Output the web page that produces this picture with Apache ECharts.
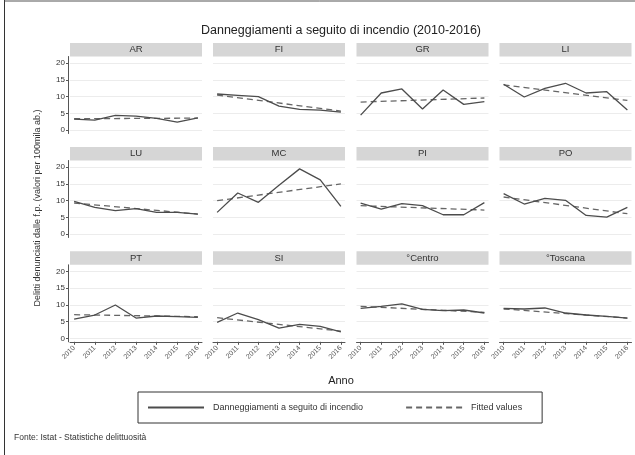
<!DOCTYPE html>
<html>
<head>
<meta charset="utf-8">
<script src="https://cdn.jsdelivr.net/npm/echarts@6/dist/echarts.min.js"></script>
<style>
html,body{margin:0;padding:0;background:#fff;}
#c{width:635px;height:455px;}
</style>
</head>
<body>
<div id="c"></div>
<script>
// ---- data ----
const years = [2010, 2011, 2012, 2013, 2014, 2015, 2016];
const yTicks = [0, 5, 10, 15, 20];
const panelNames = ['AR', 'FI', 'GR', 'LI', 'LU', 'MC', 'PI', 'PO', 'PT', 'SI', '°Centro', '°Toscana'];

const AR = [3.3, 3.0, 4.4, 4.2, 3.5, 2.4, 3.7];
const FI = [10.8, 10.4, 10.0, 7.2, 6.2, 6.0, 5.4];
const GR = [4.5, 11.1, 12.3, 6.3, 12.0, 7.7, 8.5];
const LI = [13.7, 9.9, 12.5, 14.0, 11.1, 11.5, 6.0];
const LU = [9.8, 8.0, 7.0, 7.6, 6.5, 6.5, 6.0];
const MC = [6.5, 12.3, 9.5, 14.6, 19.5, 16.2, 8.3];
const PI = [9.3, 7.5, 9.1, 8.5, 5.8, 5.8, 9.4];
const PO = [12.1, 9.0, 10.7, 10.1, 5.6, 5.1, 8.0];
const PT = [5.8, 7.0, 10.0, 6.1, 6.7, 6.5, 6.3];
const SI = [4.8, 7.6, 5.6, 3.1, 4.2, 3.6, 2.0];
const CENTRO = [9.0, 9.6, 10.3, 8.7, 8.3, 8.5, 7.6];
const TOSCANA = [9.0, 8.8, 9.1, 7.6, 7.0, 6.6, 6.1];

// fitted values: line endpoints at 2010 and 2016
const AR_fit = [3.4, 3.6];
const FI_fit = [10.5, 5.7];
const GR_fit = [8.4, 9.6];
const LI_fit = [13.5, 8.9];
const LU_fit = [9.3, 6.0];
const MC_fit = [10.0, 15.0];
const PI_fit = [8.5, 7.2];
const PO_fit = [11.1, 6.1];
const PT_fit = [7.1, 6.5];
const SI_fit = [6.2, 2.2];
const CENTRO_fit = [9.6, 7.8];
const TOSCANA_fit = [8.8, 6.1];

const observed = [AR, FI, GR, LI, LU, MC, PI, PO, PT, SI, CENTRO, TOSCANA];
const fitted = [AR_fit, FI_fit, GR_fit, LI_fit, LU_fit, MC_fit, PI_fit, PO_fit, PT_fit, SI_fit, CENTRO_fit, TOSCANA_fit];

const seriesNames = ['Danneggiamenti a seguito di incendio', 'Fitted values'];

// ---- layout ----
const FONT = '"Liberation Sans", Arial, Helvetica, sans-serif';
const colLeft = [70, 213, 356.5, 499.5];
const colW = 132;
const rowTop = [56.5, 160.5, 264.8];
const rowH = 77;
const stripH = 13.5;

const grids = [], xAxes = [], yAxes = [], series = [], graphics = [];

panelNames.forEach((name, i) => {
  const r = Math.floor(i / 4), c = i % 4;
  grids.push({ left: colLeft[c], top: rowTop[r], width: colW, height: rowH, containLabel: false });
  const bottomRow = r === 2;
  xAxes.push({
    type: 'value', gridIndex: i, min: 2009.8, max: 2016.2,
    axisLine: { show: bottomRow, onZero: false, lineStyle: { color: '#555', width: 1 } },
    axisTick: { show: bottomRow, length: 3, customValues: years, lineStyle: { color: '#555' } },
    axisLabel: {
      show: bottomRow, customValues: years, rotate: 45, fontSize: 7, color: '#555',
      fontFamily: FONT, margin: 5, formatter: v => String(v)
    },
    splitLine: { show: false }
  });
  const firstCol = c === 0;
  yAxes.push({
    type: 'value', gridIndex: i, min: -1, max: 22, offset: firstCol ? 2 : 0,
    axisLine: { show: firstCol, lineStyle: { color: '#555', width: 1 } },
    axisTick: { show: firstCol, length: 2, customValues: yTicks, lineStyle: { color: '#555' } },
    axisLabel: { show: firstCol, customValues: yTicks, fontSize: 8, color: '#333', fontFamily: FONT, margin: 3 },
    splitLine: { show: true, lineStyle: { color: '#ececec', width: 1 } }
  });
  series.push({
    name: seriesNames[0], type: 'line', xAxisIndex: i, yAxisIndex: i,
    data: years.map((y, k) => [y, observed[i][k]]),
    symbol: 'none', lineStyle: { color: '#4c4c4c', width: 1.3 }, itemStyle: { color: '#4c4c4c' },
    animation: false, z: 3
  });
  series.push({
    name: seriesNames[1], type: 'line', xAxisIndex: i, yAxisIndex: i,
    data: [[years[0], fitted[i][0]], [years[years.length - 1], fitted[i][1]]],
    symbol: 'none', lineStyle: { color: '#666', width: 1.3, type: [6, 4] }, itemStyle: { color: '#666' },
    animation: false, z: 2
  });
  // strip
  graphics.push({
    type: 'rect', shape: { x: colLeft[c], y: rowTop[r] - stripH, width: colW, height: stripH },
    style: { fill: '#d6d6d6' }, silent: true
  });
  graphics.push({
    type: 'text', x: colLeft[c] + colW / 2, y: rowTop[r] - stripH / 2,
    style: { text: name, fill: '#333', font: '9.5px ' + FONT, textAlign: 'center', textVerticalAlign: 'middle' },
    silent: true
  });
});

// frame lines
graphics.push({ type: 'line', shape: { x1: 4.5, y1: 0, x2: 4.5, y2: 455 }, style: { stroke: '#333', lineWidth: 1 } });
graphics.push({ type: 'line', shape: { x1: 4.5, y1: 1, x2: 635, y2: 1 }, style: { stroke: '#555', lineWidth: 1 } });
// title
graphics.push({
  type: 'text', x: 341, y: 31,
  style: { text: 'Danneggiamenti a seguito di incendio (2010-2016)', fill: '#222', font: '12.5px ' + FONT, textAlign: 'center', textVerticalAlign: 'middle' }
});
// y label
graphics.push({
  type: 'text', x: 37.5, y: 208, rotation: Math.PI / 2,
  style: { text: 'Delitti denunciati dalle f.p. (valori per 100mila ab.)', fill: '#333', font: '9px ' + FONT, textAlign: 'center', textVerticalAlign: 'middle' }
});
// x label
graphics.push({
  type: 'text', x: 341, y: 381,
  style: { text: 'Anno', fill: '#222', font: '11px ' + FONT, textAlign: 'center', textVerticalAlign: 'middle' }
});
// source
graphics.push({
  type: 'text', x: 14, y: 438,
  style: { text: 'Fonte: Istat - Statistiche delittuosità', fill: '#333', font: '8.5px ' + FONT, textAlign: 'left', textVerticalAlign: 'middle' }
});

const chart = echarts.init(document.getElementById('c'), null, { renderer: 'canvas' });
chart.setOption({
  animation: false,
  backgroundColor: '#fff',
  grid: grids,
  xAxis: xAxes,
  yAxis: yAxes,
  series: series,
  legend: {
    data: seriesNames,
    left: 138, top: 392,
    padding: [11, 20, 11, 9],
    borderColor: '#333', borderWidth: 1,
    itemWidth: 56, itemHeight: 8, itemGap: 42,
    itemStyle: { opacity: 0 },
    textStyle: { fontSize: 9, color: '#333', fontFamily: FONT, padding: [0, 0, 0, 4] },
    selectedMode: false
  },
  graphic: graphics
});
</script>
</body>
</html>
